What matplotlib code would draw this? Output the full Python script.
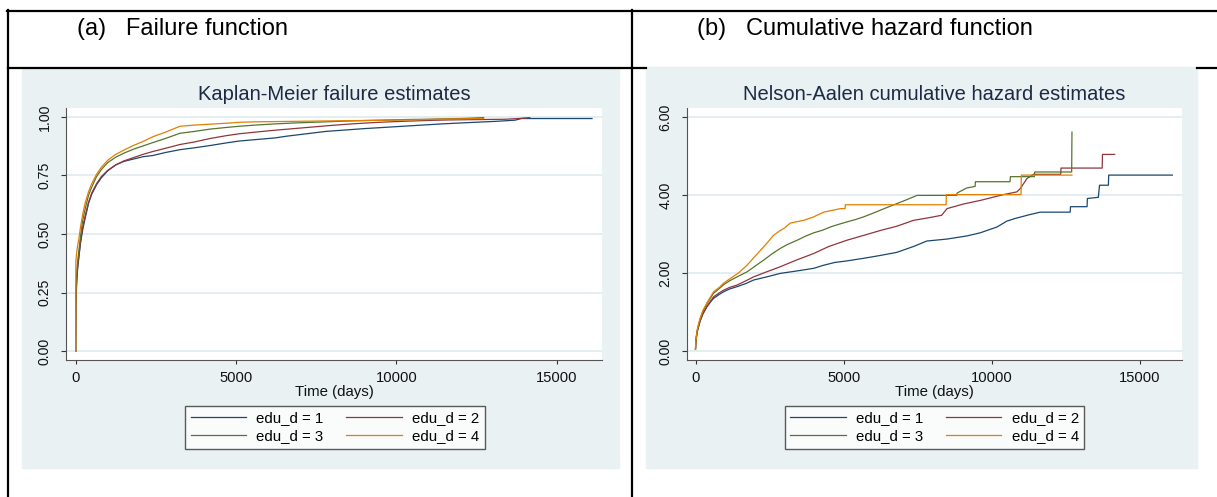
import matplotlib
matplotlib.use("Agg")
import matplotlib.pyplot as plt
from matplotlib.lines import Line2D
from matplotlib.patches import Rectangle

# ---- datos ----
grupos = ["edu_d = 1", "edu_d = 2", "edu_d = 3", "edu_d = 4"]
colores = ["#1a476f", "#90353b", "#55752f", "#e37e00"]

# Kaplan-Meier (tiempo en dias, fallo acumulado)
km_t1 = [0, 5, 30, 60, 100, 150, 220, 300, 400, 500, 650, 800, 1000, 1250, 1500, 1800, 2100,
         2400, 2800, 3250, 3700, 4200, 4700, 5100, 5600, 6200, 6600, 7200, 7800, 8400, 9000,
         9600, 10200, 10800, 11400, 12000, 12600, 13100, 13700, 13900, 16100]
km_f1 = [0, 0.20, 0.29, 0.35, 0.40, 0.46, 0.52, 0.57, 0.63, 0.67, 0.71, 0.74, 0.77, 0.795,
         0.81, 0.82, 0.83, 0.835, 0.848, 0.86, 0.868, 0.878, 0.889, 0.897, 0.903, 0.91, 0.918,
         0.928, 0.938, 0.944, 0.95, 0.955, 0.96, 0.965, 0.97, 0.974, 0.978, 0.981, 0.986,
         0.993, 0.993]
km_t2 = [0, 5, 30, 60, 100, 150, 220, 300, 400, 500, 650, 800, 1000, 1250, 1500, 1800, 2100,
         2400, 2800, 3250, 3700, 4200, 4700, 5100, 5600, 6200, 6800, 7400, 8000, 8600, 9200,
         9800, 10400, 11000, 11600, 12200, 12800, 13400, 13800, 14160]
km_f2 = [0, 0.20, 0.30, 0.36, 0.41, 0.47, 0.53, 0.58, 0.635, 0.675, 0.715, 0.745, 0.772,
         0.795, 0.812, 0.826, 0.84, 0.852, 0.866, 0.882, 0.893, 0.908, 0.92, 0.928, 0.935,
         0.943, 0.95, 0.957, 0.964, 0.97, 0.975, 0.979, 0.982, 0.985, 0.987, 0.988, 0.989,
         0.99, 0.993, 0.997]
km_t3 = [0, 5, 30, 60, 100, 150, 220, 300, 400, 500, 650, 800, 1000, 1250, 1500, 1800, 2100,
         2400, 2800, 3250, 3700, 4200, 4700, 5100, 5600, 6200, 6800, 7400, 8000, 8600, 9200,
         9800, 10400, 11000, 11600, 12200, 12720]
km_f3 = [0, 0.25, 0.33, 0.38, 0.43, 0.49, 0.56, 0.61, 0.665, 0.70, 0.745, 0.775, 0.805,
         0.828, 0.845, 0.862, 0.876, 0.89, 0.908, 0.93, 0.938, 0.948, 0.955, 0.96, 0.965,
         0.97, 0.974, 0.977, 0.98, 0.983, 0.985, 0.987, 0.989, 0.99, 0.992, 0.994, 0.997]
km_t4 = km_t3
km_f4 = [0, 0.38, 0.42, 0.45, 0.48, 0.53, 0.585, 0.635, 0.68, 0.715, 0.755, 0.785, 0.815,
         0.84, 0.858, 0.878, 0.895, 0.915, 0.935, 0.96, 0.965, 0.969, 0.973, 0.977, 0.979,
         0.98, 0.981, 0.982, 0.983, 0.984, 0.985, 0.986, 0.987, 0.989, 0.991, 0.992, 0.993]

# Nelson-Aalen (riesgo acumulado); los saltos grandes llevan el tiempo repetido
na_t1 = [0, 10, 30, 60, 100, 160, 250, 390, 500, 610, 800, 950, 1150, 1400, 1700, 1960, 2400,
         2860, 3400, 3990, 4330, 4700, 5110, 5700, 6240, 6800, 7360, 7810, 8490, 9160, 9610,
         10180, 10510, 10800, 11300, 11640, 12650, 12660, 13220, 13230, 13600, 13640, 13940,
         13950, 16100]
na_h1 = [0.05, 0.2, 0.35, 0.5, 0.62, 0.78, 0.95, 1.14, 1.25, 1.35, 1.45, 1.52, 1.59, 1.65,
         1.73, 1.82, 1.9, 1.99, 2.05, 2.12, 2.2, 2.27, 2.31, 2.38, 2.45, 2.53, 2.68, 2.82,
         2.87, 2.95, 3.03, 3.18, 3.33, 3.4, 3.5, 3.56, 3.56, 3.70, 3.70, 3.91, 3.94, 4.25,
         4.25, 4.51, 4.51]
na_t2 = [0, 10, 30, 60, 100, 160, 250, 390, 500, 610, 800, 950, 1150, 1400, 1700, 1960, 2400,
         2860, 3400, 3990, 4500, 5110, 5700, 6240, 6800, 7360, 7900, 8310, 8490, 9050, 9610,
         10400, 10850, 10970, 11190, 11410, 12330, 12340, 13730, 13740, 14150]
na_h2 = [0.05, 0.2, 0.35, 0.5, 0.62, 0.78, 0.96, 1.15, 1.27, 1.39, 1.49, 1.56, 1.63, 1.69,
         1.8, 1.9, 2.03, 2.16, 2.33, 2.5, 2.68, 2.84, 2.97, 3.09, 3.2, 3.35, 3.42, 3.48, 3.65,
         3.77, 3.86, 4.01, 4.08, 4.17, 4.42, 4.53, 4.53, 4.69, 4.69, 5.04, 5.04]
na_t3 = [0, 10, 30, 60, 100, 160, 250, 390, 500, 610, 800, 950, 1150, 1400, 1740, 2000, 2300,
         2600, 2860, 3100, 3430, 3700, 3990, 4300, 4550, 4800, 5110, 5400, 5680, 5950, 6240,
         6500, 6800, 7100, 7480, 8820, 8830, 9160, 9440, 9450, 10620, 10630, 11440, 11450,
         12700, 12710]
na_h3 = [0.05, 0.22, 0.38, 0.53, 0.66, 0.83, 1.02, 1.22, 1.35, 1.48, 1.6, 1.7, 1.8, 1.9,
         2.03, 2.17, 2.33, 2.5, 2.63, 2.73, 2.84, 2.94, 3.03, 3.1, 3.18, 3.24, 3.31, 3.37,
         3.44, 3.52, 3.61, 3.69, 3.78, 3.87, 3.99, 3.99, 4.05, 4.18, 4.22, 4.34, 4.34, 4.47,
         4.47, 4.59, 4.59, 5.61]
na_t4 = [0, 10, 30, 60, 100, 160, 250, 390, 500, 610, 800, 950, 1175, 1450, 1740, 2000, 2300,
         2450, 2640, 2860, 3000, 3200, 3650, 3990, 4330, 4890, 5050, 5060, 8460, 8470, 10990,
         11000, 12710]
na_h4 = [0.05, 0.24, 0.4, 0.55, 0.68, 0.85, 1.04, 1.24, 1.38, 1.52, 1.63, 1.74, 1.86, 2.0,
         2.2, 2.42, 2.67, 2.8, 2.97, 3.09, 3.15, 3.28, 3.35, 3.44, 3.56, 3.65, 3.65, 3.75,
         3.75, 4.01, 4.01, 4.51, 4.51]

x_ticks = [0, 5000, 10000, 15000]
km_ticks = [0.0, 0.25, 0.50, 0.75, 1.00]
na_ticks = [0.0, 2.0, 4.0, 6.0]

W, H = 1217, 497
FONDO = "#e9f1f3"
TEXTO = "#111111"
plt.rcParams["font.family"] = ["Liberation Sans", "DejaVu Sans"]


def fx(px):
    return px / W


def fy(py):
    return 1 - py / H


def caja(x0, y0, x1, y1):
    return [fx(x0), fy(y1), fx(x1) - fx(x0), fy(y0) - fy(y1)]


def dibujar_panel(fig, pos, series, titulo, yticks, ylim, xlim, leyenda_xy):
    ax = fig.add_axes(pos)
    ax.set_facecolor("white")
    for (t, v), color, nombre in zip(series, colores, grupos):
        ax.plot(t, v, color=color, lw=0.9, label=nombre)
    ax.set_xlim(*xlim)
    ax.set_ylim(*ylim)
    ax.set_xticks(x_ticks)
    ax.set_yticks(yticks)
    ax.set_yticklabels([f"{v:.2f}" for v in yticks], rotation=90, va="center",
                       fontsize=10.2, color=TEXTO)
    ax.set_xticklabels([str(v) for v in x_ticks], fontsize=10.6, color=TEXTO)
    ax.grid(axis="y", color="#e4eef1", lw=1.4)
    ax.set_axisbelow(True)
    for lado in ["top", "right"]:
        ax.spines[lado].set_visible(False)
    for lado in ["left", "bottom"]:
        ax.spines[lado].set_color("#555555")
        ax.spines[lado].set_linewidth(0.8)
    ax.tick_params(axis="y", length=3.5, width=0.8, pad=7, color="#333333")
    ax.tick_params(axis="x", length=3, width=0.8, pad=5, color="#333333")
    ax.set_xlabel("Time (days)", fontsize=10.8, color=TEXTO, labelpad=0)
    ax.set_title(titulo, fontsize=14.5, color="#1c2a44", pad=5.5)

    lineas = ax.get_lines()
    orden = [0, 2, 1, 3]
    leg = ax.legend([lineas[i] for i in orden], [grupos[i] for i in orden], ncol=2,
                    loc="center", bbox_to_anchor=leyenda_xy, bbox_transform=fig.transFigure,
                    fontsize=10.8, frameon=True, fancybox=False, handlelength=3.7,
                    handletextpad=0.7, columnspacing=1.5, labelspacing=0.3,
                    borderpad=0.35, borderaxespad=0)
    leg.get_frame().set_edgecolor("#333333")
    leg.get_frame().set_linewidth(1.0)
    return ax


def main():
    fig = plt.figure(figsize=(W / 100, H / 100), dpi=100)

    # fondos grises de cada grafica
    fig.add_artist(Rectangle((fx(22), fy(468)), fx(619) - fx(22), fy(68) - fy(468),
                             transform=fig.transFigure, color=FONDO, zorder=0))
    fig.add_artist(Rectangle((fx(646), fy(468)), fx(1197) - fx(646), fy(67) - fy(468),
                             transform=fig.transFigure, color=FONDO, zorder=0))

    # lineas de la tabla
    estilo = dict(transform=fig.transFigure, color="black", lw=1.6, zorder=5)
    fig.add_artist(Line2D([fx(7), 1], [fy(10.7), fy(10.7)], **estilo))
    fig.add_artist(Line2D([fx(8), fx(8)], [fy(10), 0], **estilo))
    fig.add_artist(Line2D([fx(632), fx(632)], [fy(10), 0], **estilo))
    fig.add_artist(Line2D([fx(8), fx(646)], [fy(67.5), fy(67.5)], **estilo))
    fig.add_artist(Line2D([fx(1197), 1], [fy(67.5), fy(67.5)], **estilo))

    cab = dict(fontsize=17, va="center", ha="left", color="black")
    fig.text(fx(77), fy(29), "(a)   Failure function", **cab)
    fig.text(fx(697), fy(29), "(b)   Cumulative hazard function", **cab)

    km = [(km_t1, km_f1), (km_t2, km_f2), (km_t3, km_f3), (km_t4, km_f4)]
    na = [(na_t1, na_h1), (na_t2, na_h2), (na_t3, na_h3), (na_t4, na_h4)]

    dibujar_panel(fig, caja(66, 108, 602, 360), km, "Kaplan-Meier failure estimates",
                  km_ticks, (-0.038, 1.038), (-302, 16412), (fx(335), fy(427)))
    dibujar_panel(fig, caja(687, 108, 1182, 360), na, "Nelson-Aalen cumulative hazard estimates",
                  na_ticks, (-0.23, 6.23), (-287, 16425), (fx(934.5), fy(427)))

    fig.savefig("out.png", dpi=100)


if __name__ == "__main__":
    main()
